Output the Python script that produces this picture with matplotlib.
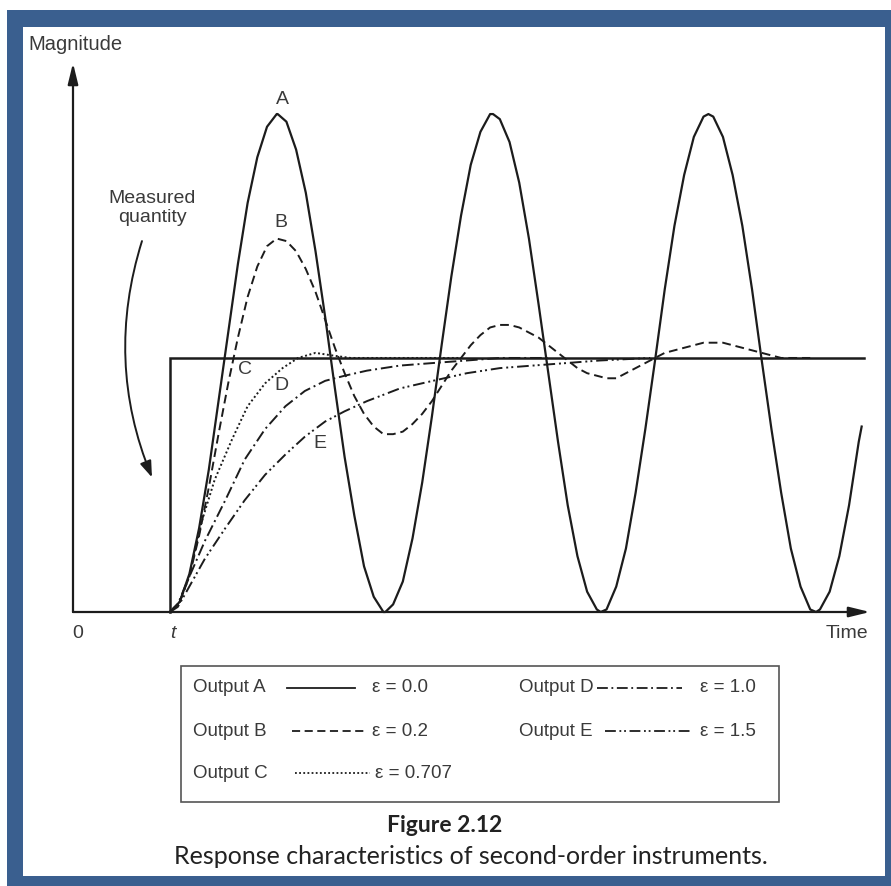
import matplotlib
matplotlib.use("Agg")
import matplotlib.pyplot as plt
from matplotlib.patches import Rectangle
from matplotlib.lines import Line2D

# time axis: 0 at origin, step applied at t = 10
# output A, undamped (eps = 0.0), read every time unit from t = 10
time_A = list(range(10, 82)) + [81.3]
out_A = [0.00, 0.04, 0.15, 0.33, 0.56, 0.83, 1.10, 1.37, 1.61, 1.79,
         1.91, 1.96, 1.93, 1.82, 1.65, 1.42, 1.16, 0.88, 0.61, 0.38,
         0.18, 0.06, 0.00, 0.03, 0.12, 0.29, 0.51, 0.77, 1.05, 1.32,
         1.56, 1.76, 1.89, 1.96, 1.94, 1.85, 1.69, 1.47, 1.21, 0.94,
         0.67, 0.42, 0.22, 0.08, 0.01, 0.01, 0.10, 0.25, 0.47, 0.72,
         0.99, 1.27, 1.52, 1.72, 1.87, 1.95, 1.95, 1.87, 1.72, 1.52,
         1.27, 0.99, 0.72, 0.47, 0.25, 0.10, 0.01, 0.01, 0.08, 0.22,
         0.42, 0.67, 0.73]
# peaks and troughs of A, read separately
time_A_ext = [21.1, 32.2, 43.3, 54.4, 65.5, 76.6]
out_A_ext = [1.96, 0.00, 1.96, 0.00, 1.96, 0.00]

# output B (eps = 0.2)
time_B = list(range(10, 77))
out_B = [0.00, 0.04, 0.14, 0.30, 0.49, 0.70, 0.90, 1.08, 1.24, 1.36,
         1.44, 1.47, 1.46, 1.42, 1.35, 1.26, 1.15, 1.04, 0.94, 0.85,
         0.78, 0.73, 0.70, 0.70, 0.71, 0.74, 0.78, 0.83, 0.89, 0.95,
         1.00, 1.05, 1.09, 1.12, 1.13, 1.13, 1.12, 1.10, 1.08, 1.05,
         1.02, 0.99, 0.96, 0.94, 0.93, 0.92, 0.92, 0.94, 0.96, 0.98,
         1.00, 1.02, 1.03, 1.04, 1.05, 1.06, 1.06, 1.06, 1.05, 1.04,
         1.03, 1.02, 1.01, 1.00, 1.00, 1.00, 1.00]

# output C (eps = 0.707)
time_C = [10, 11.0, 11.9, 13.3, 14.6, 16.4, 18.0, 19.8, 21.6, 23.2, 25.0, 26.7, 28.6, 32, 40]
out_C = [0, 0.04, 0.13, 0.36, 0.52, 0.68, 0.81, 0.90, 0.96, 1.00, 1.02, 1.01, 1.00, 1.00, 1.00]

# output D (eps = 1.0)
time_D = [10, 10.8, 11.55, 13.6, 15.7, 17.7, 19.8, 21.9, 23.9, 26.0, 28.0, 30.3, 33.7, 37.1, 40.6, 44.0, 49]
out_D = [0, 0.03, 0.10, 0.28, 0.44, 0.60, 0.72, 0.81, 0.87, 0.91, 0.93, 0.95, 0.97, 0.98, 0.99, 1.00, 1.00]

# output E (eps = 1.5)
time_E = [10, 10.8, 11.55, 13.6, 15.7, 17.7, 19.8, 21.9, 23.9, 26.0, 28.0, 30.3, 33.7, 37.1,
          40.6, 44.0, 47.4, 50.9, 54.3, 59.5]
out_E = [0, 0.02, 0.07, 0.21, 0.33, 0.44, 0.54, 0.62, 0.69, 0.75, 0.79, 0.83, 0.88, 0.91,
         0.94, 0.96, 0.97, 0.98, 0.99, 1.00]

# measured quantity (step input)
time_step = [10, 10, 81.5]
step = [0, 1, 1]

legend_rows = [("Output A", "\u03b5 = 0.0"), ("Output B", "\u03b5 = 0.2"), ("Output C", "\u03b5 = 0.707"),
               ("Output D", "\u03b5 = 1.0"), ("Output E", "\u03b5 = 1.5")]

W, H = 891, 886
def fx(px):
    return px / W
def fy(py):
    return 1 - py / H

ink = "#1c1c1c"
txt = "#3a3a3a"
blue = "#3a5f8f"
styles = {
    "A": "-",
    "B": (0, (4.5, 2.5)),
    "C": (0, (1, 1.3)),
    "D": (0, (6, 2, 1, 2)),
    "E": (0, (6, 2, 1, 1.6, 1, 2)),
}

plt.rcParams["font.family"] = ["Liberation Sans", "DejaVu Sans"]
fig = plt.figure(figsize=(W / 100, H / 100), dpi=100)
fig.patch.set_facecolor("white")

# blue frame, drawn behind everything
fig.patches.append(Rectangle((fx(7), 0), fx(891) - fx(7), fy(10), transform=fig.transFigure,
                             facecolor=blue, edgecolor="none", zorder=-5))
fig.patches.append(Rectangle((fx(23), fy(876)), fx(885) - fx(23), fy(27) - fy(876),
                             transform=fig.transFigure, facecolor="white", edgecolor="none", zorder=-4))

ax = fig.add_axes([fx(73), fy(612), fx(870) - fx(73), fy(63) - fy(612)], zorder=2)
ax.set_xlim(0, 82.16)
ax.set_ylim(0, 2.161)
ax.axis("off")
ax.patch.set_alpha(0)

# axes with arrow heads
arr = dict(arrowstyle="-|>,head_length=0.9,head_width=0.22", lw=1.6, color=ink,
           shrinkA=0, shrinkB=0, mutation_scale=14)
ax.annotate("", xy=(82.16, 0), xytext=(0, 0), arrowprops=arr, annotation_clip=False)
ax.annotate("", xy=(0, 2.161), xytext=(0, 0), arrowprops=arr, annotation_clip=False)

a_pts = sorted(zip(time_A + time_A_ext, out_A + out_A_ext))
ta = [p[0] for p in a_pts]
va = [p[1] for p in a_pts]

lw = 1.4
ax.plot(time_step, step, color=ink, lw=1.8, solid_joinstyle="miter", clip_on=False)
ax.plot(ta, va, color=ink, lw=1.6, linestyle=styles["A"], solid_joinstyle="round", clip_on=False)
ax.plot(time_B, out_B, color=ink, lw=lw, linestyle=styles["B"], clip_on=False)
ax.plot(time_C, out_C, color=ink, lw=lw, linestyle=styles["C"], clip_on=False)
ax.plot(time_D, out_D, color=ink, lw=lw, linestyle=styles["D"], clip_on=False)
ax.plot(time_E, out_E, color=ink, lw=lw, linestyle=styles["E"], clip_on=False)

# "Measured quantity" pointer
ax.annotate("", xy=(8.14, 0.53), xytext=(7.11, 1.46),
            arrowprops=dict(arrowstyle="-|>,head_length=0.7,head_width=0.25", lw=1.4, color=ink,
                            connectionstyle="arc3,rad=0.18", shrinkA=0, shrinkB=0, mutation_scale=14),
            annotation_clip=False)

fs = 14
fig.text(fx(28), fy(45), "Magnitude", fontsize=14.5, color=txt, ha="left", va="center")
fig.text(fx(152), fy(208), "Measured\nquantity", fontsize=fs, color=txt, ha="center", va="center",
         linespacing=1.1)
for lab, px, py in [("A", 282, 100), ("B", 281, 223), ("C", 245, 369), ("D", 281, 385), ("E", 320, 443)]:
    fig.text(fx(px), fy(py), lab, fontsize=fs, color=txt, ha="center", va="center")
fig.text(fx(78), fy(633), "0", fontsize=fs, color=txt, ha="center", va="center")
fig.text(fx(173), fy(633), "t", fontsize=fs, color=txt, ha="center", va="center", style="italic")
fig.text(fx(868), fy(634), "Time", fontsize=fs, color=txt, ha="right", va="center")

# legend box
fig.patches.append(Rectangle((fx(181), fy(802)), fx(779) - fx(181), fy(666) - fy(802),
                             transform=fig.transFigure, facecolor="none", edgecolor="#555555", lw=1.2))
spots = {
    "A": (193, 688, 287, 355, 372),
    "B": (193, 731, 292, 365, 372),
    "C": (193, 773, 295, 370, 375),
    "D": (519, 688, 597, 682, 700),
    "E": (519, 731, 605, 690, 700),
}
for (name, eps) in legend_rows:
    key = name[-1]
    x0, y0, l0, l1, e0 = spots[key]
    fig.text(fx(x0), fy(y0), name, fontsize=13.5, color=txt, ha="left", va="center")
    fig.add_artist(Line2D([fx(l0), fx(l1)], [fy(y0), fy(y0)], color=ink, lw=1.3,
                          linestyle=styles[key]))
    fig.text(fx(e0), fy(y0), eps, fontsize=13.5, color=txt, ha="left", va="center")

fig.text(fx(445), fy(826), "Figure 2.12", fontsize=16.5, fontweight="bold", color="#222222",
         ha="center", va="center", family=["Lato", "DejaVu Sans"])
fig.text(fx(471), fy(856), "Response characteristics of second-order instruments.", fontsize=18,
         color="#222222", ha="center", va="center", family=["Lato", "DejaVu Sans"])

fig.savefig("out.png", dpi=100)
